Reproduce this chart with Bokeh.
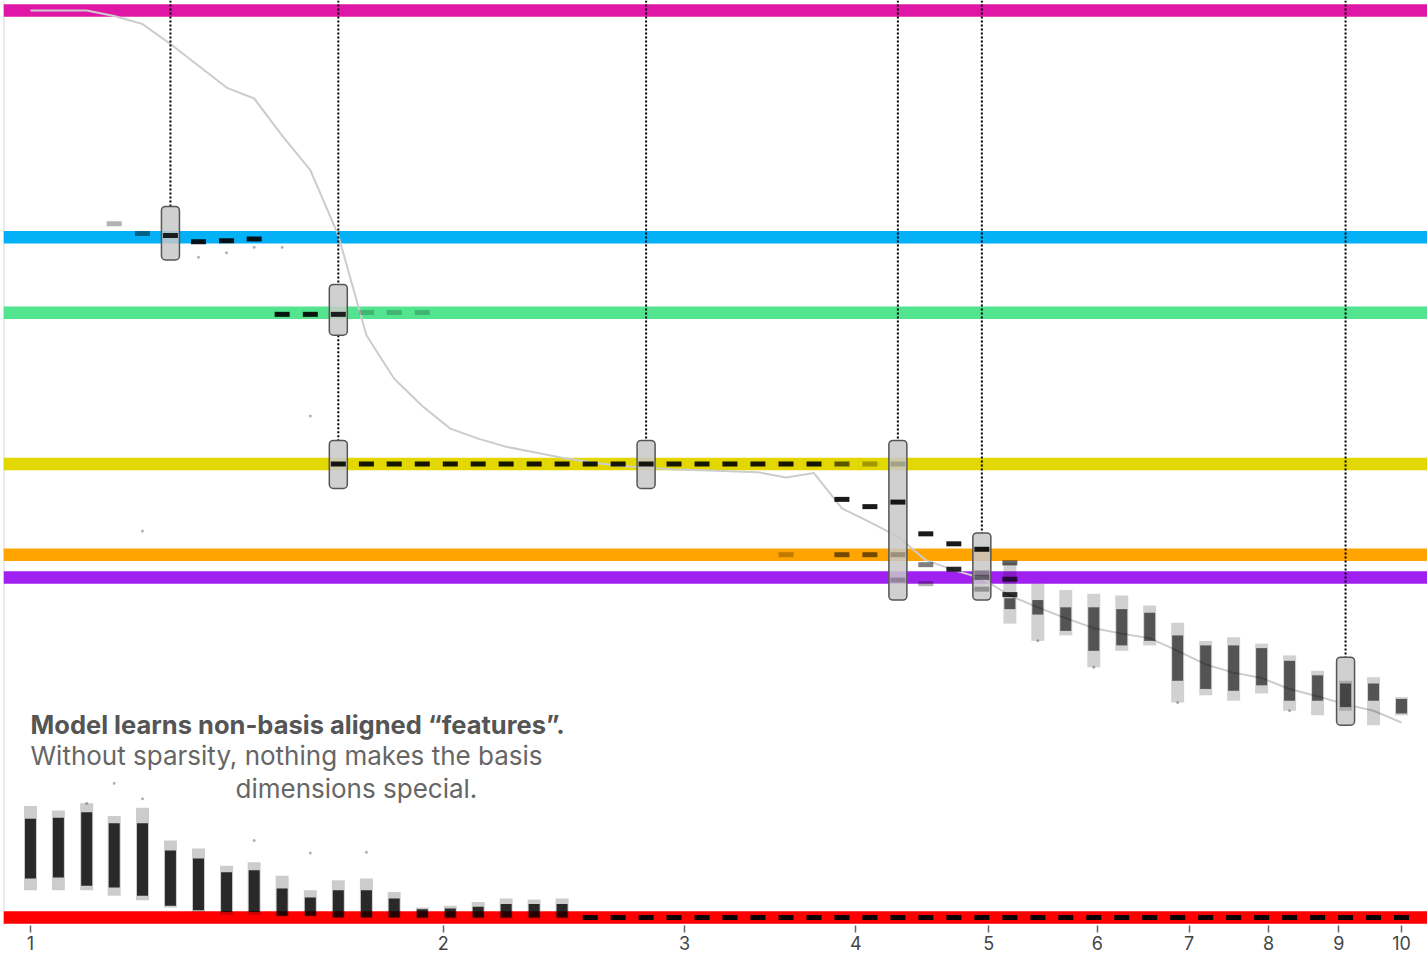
from bokeh.plotting import figure
from bokeh.models import Range1d, Span, Label, FixedTicker, PrintfTickFormatter, ColumnDataSource
from bokeh.embed import file_html
from bokeh.resources import INLINE

# ---------------- data ----------------
# sparsity grid, 1/(1-S), 50 log-spaced runs between 1 and 10
sparsity = [1.000, 1.048, 1.099, 1.151, 1.207, 1.265, 1.326, 1.390, 1.456, 1.526,
            1.600, 1.677, 1.758, 1.842, 1.931, 2.024, 2.121, 2.223, 2.330, 2.442,
            2.560, 2.683, 2.812, 2.947, 3.089, 3.237, 3.393, 3.557, 3.728, 3.907,
            4.095, 4.292, 4.498, 4.715, 4.942, 5.180, 5.429, 5.690, 5.964, 6.251,
            6.551, 6.866, 7.197, 7.543, 7.906, 8.286, 8.685, 9.103, 9.541, 10.000]

# mean dimensions per feature (gray curve)
dims_curve = [1.000, 1.000, 1.000, 0.994, 0.985, 0.963, 0.939, 0.915, 0.903, 0.862,
              0.824, 0.752, 0.642, 0.594, 0.564, 0.539, 0.528, 0.519, 0.513, 0.507,
              0.502, 0.498, 0.496, 0.494, 0.493, 0.492, 0.491, 0.485, 0.490, 0.451,
              0.436, 0.420, 0.394, 0.383, 0.374, 0.355, 0.342, 0.330, 0.319, 0.313,
              0.308, 0.294, 0.279, 0.270, 0.264, 0.252, 0.244, 0.235, 0.228, 0.215]

# reference fractions (colored bands)
band_values = [1.0, 3 / 4, 2 / 3, 1 / 2, 2 / 5, 3 / 8, 0.0]
band_colors = ["#e016a6", "#04b1f6", "#52e48f", "#e2d800", "#ffa400", "#a020f0", "#ff0000"]

# spread-out clusters (dense, few dims) at low sparsity: run index, outer range, dense core
blobL_idx = [0, 1, 2, 3, 4, 5, 6, 7, 8, 9, 10, 11, 12, 13, 14, 15, 16, 17, 18, 19]
blobL_lo = [0.030, 0.030, 0.030, 0.024, 0.019, 0.011, 0.006, 0.003, 0.003, 0.001,
            0.001, 0.000, 0.000, 0.000, -0.001, -0.001, -0.001, -0.001, -0.001, -0.001]
blobL_hi = [0.123, 0.118, 0.126, 0.112, 0.121, 0.085, 0.076, 0.057, 0.061, 0.046,
            0.030, 0.041, 0.043, 0.028, 0.011, 0.013, 0.017, 0.021, 0.020, 0.021]
coreL_lo = [0.043, 0.044, 0.035, 0.033, 0.024, 0.013, 0.008, 0.006, 0.006, 0.002,
            0.002, 0.000, 0.000, 0.000, 0.000, 0.000, 0.000, 0.000, 0.000, 0.000]
coreL_hi = [0.109, 0.110, 0.116, 0.104, 0.104, 0.074, 0.065, 0.050, 0.052, 0.032,
            0.022, 0.030, 0.030, 0.021, 0.009, 0.010, 0.012, 0.015, 0.015, 0.015]

# scattered clusters at high sparsity
blobR_idx = [35, 36, 37, 38, 39, 40, 41, 42, 43, 44, 45, 46, 47, 48, 49]
blobR_lo = [0.324, 0.305, 0.311, 0.276, 0.294, 0.300, 0.237, 0.245, 0.239, 0.247,
            0.228, 0.223, 0.228, 0.212, 0.223]
blobR_hi = [0.391, 0.368, 0.361, 0.357, 0.355, 0.344, 0.325, 0.305, 0.309, 0.302,
            0.289, 0.272, 0.261, 0.265, 0.243]
coreR_lo = [0.340, 0.334, 0.316, 0.294, 0.300, 0.305, 0.261, 0.252, 0.250, 0.256,
            0.239, 0.239, 0.232, 0.239, 0.225]
coreR_hi = [0.352, 0.350, 0.342, 0.342, 0.340, 0.336, 0.311, 0.300, 0.300, 0.297,
            0.283, 0.267, 0.258, 0.258, 0.241]

# tight clusters (features sitting at one fraction): run index, value, darkness
dash_idx = [3, 4, 5, 6, 7, 8,
            9, 10, 11, 12, 13, 14,
            11, 12, 13, 14, 15, 16, 17, 18, 19, 20, 21, 22, 23, 24, 25, 26, 27, 28, 29, 30, 31,
            29, 30, 31, 32, 33, 34, 35,
            27, 29, 30, 31,
            31, 32, 34, 35,
            32, 33, 34, 34, 35,
            20, 21, 22, 23, 24, 25, 26, 27, 28, 29, 30, 31, 32, 33, 34, 35, 36, 37, 38, 39,
            40, 41, 42, 43, 44, 45, 46, 47, 48, 49]
dash_val = [0.765, 0.754, 0.752, 0.745, 0.746, 0.748,
            0.665, 0.665, 0.665, 0.667, 0.667, 0.667,
            0.5, 0.5, 0.5, 0.5, 0.5, 0.5, 0.5, 0.5, 0.5, 0.5, 0.5, 0.5, 0.5, 0.5, 0.5, 0.5, 0.5, 0.5, 0.5, 0.5, 0.5,
            0.461, 0.453, 0.458, 0.423, 0.412, 0.406, 0.391,
            0.4, 0.4, 0.4, 0.4,
            0.372, 0.368, 0.375, 0.373,
            0.389, 0.384, 0.380, 0.362, 0.356,
            0.0, 0.0, 0.0, 0.0, 0.0, 0.0, 0.0, 0.0, 0.0, 0.0, 0.0, 0.0, 0.0, 0.0, 0.0, 0.0, 0.0, 0.0, 0.0, 0.0,
            0.0, 0.0, 0.0, 0.0, 0.0, 0.0, 0.0, 0.0, 0.0, 0.0]
dash_alpha = [0.3, 0.45, 0.85, 0.9, 0.9, 0.9,
              0.9, 0.9, 0.85, 0.2, 0.2, 0.2,
              0.9, 0.9, 0.9, 0.9, 0.9, 0.9, 0.9, 0.9, 0.9, 0.9, 0.9, 0.9, 0.9, 0.9, 0.9, 0.9, 0.9, 0.9, 0.6, 0.3, 0.2,
              0.9, 0.9, 0.9, 0.9, 0.9, 0.9, 0.6,
              0.25, 0.55, 0.55, 0.25,
              0.25, 0.3, 0.5, 0.7,
              0.5, 0.85, 0.3, 0.3, 0.8,
              0.95, 0.95, 0.95, 0.95, 0.95, 0.95, 0.95, 0.95, 0.95, 0.95, 0.95, 0.95, 0.95, 0.95, 0.95, 0.95, 0.95, 0.95, 0.95, 0.95,
              0.95, 0.95, 0.95, 0.95, 0.95, 0.95, 0.95, 0.95, 0.95, 0.95]

# stray single features
stray_idx = [2, 3, 4, 8, 10, 12, 4, 10, 6, 7, 8, 9, 36, 38, 41, 45]
stray_val = [0.126, 0.148, 0.131, 0.085, 0.071, 0.072, 0.426, 0.553, 0.728, 0.733, 0.739, 0.739,
             0.305, 0.276, 0.237, 0.228]

# highlighted runs (gray boxes)
box_idx = [5, 11, 11, 22, 31, 34, 47]
box_top = [0.784, 0.698, 0.526, 0.526, 0.526, 0.424, 0.287]
box_bottom = [0.725, 0.642, 0.473, 0.473, 0.350, 0.350, 0.212]

xtick_vals = [1, 2, 3, 4, 5, 6, 7, 8, 9, 10]

# ---------------- figure ----------------
Y_TOP = 1.011
p = figure(frame_width=1424, frame_height=925, x_axis_type="log",
           x_range=Range1d(0.9557, 10.446), y_range=Range1d(-0.0088, Y_TOP),
           output_backend="svg", toolbar_location=None,
           min_border_left=3, min_border_right=0, min_border_top=0, min_border_bottom=0)
p.grid.visible = False
p.yaxis.visible = False
p.outline_line_color = None
p.background_fill_color = "white"
p.border_fill_color = "white"

# light left axis line
p.add_layout(Span(location=0.9557, dimension="height", line_color="#d8d8d8",
                  line_width=2, level="underlay"))

for v, c in zip(band_values, band_colors):
    p.add_layout(Span(location=v, dimension="width", line_color=c, line_width=12.5,
                      level="underlay"))

# mean curve
p.line(sparsity, dims_curve, line_color="#cccccc", line_width=2)

# dotted guides down to boxes
gx, gy0, gy1 = [], [], []
last_bottom = {}
for i, t, b in zip(box_idx, box_top, box_bottom):
    gx.append(sparsity[i])
    gy0.append(last_bottom.get(i, Y_TOP))
    gy1.append(t)
    last_bottom[i] = b
p.segment(x0=gx, y0=gy0, x1=gx, y1=gy1, line_color="black", line_width=2,
          line_dash="2 2")

# boxes
half = 10 ** (9 / 1371)
bx = [sparsity[i] for i in box_idx]
p.quad(left=[x / half for x in bx], right=[x * half for x in bx],
       top=box_top, bottom=box_bottom, fill_color="#c8c8c8", fill_alpha=0.85,
       line_color="#555555", line_width=1.5, border_radius=4)


def draw_blobs(idx, lo, hi, clo, chi, outer_alpha, core_alpha, w):
    src = ColumnDataSource(dict(
        x=[sparsity[i] for i in idx],
        y=[(a + b) / 2 for a, b in zip(lo, hi)],
        h=[b - a for a, b in zip(lo, hi)],
        cy=[(a + b) / 2 for a, b in zip(clo, chi)],
        ch=[b - a for a, b in zip(clo, chi)],
    ))
    p.rect(x="x", y="y", width=w, height="h", width_units="screen", source=src,
           fill_color="black", fill_alpha=outer_alpha, line_color=None)
    p.rect(x="x", y="cy", width=w - 2, height="ch", width_units="screen", source=src,
           fill_color="black", fill_alpha=core_alpha, line_color=None)


draw_blobs(blobL_idx, blobL_lo, blobL_hi, coreL_lo, coreL_hi, 0.2, 0.8, 13)
draw_blobs(blobR_idx, blobR_lo, blobR_hi, coreR_lo, coreR_hi, 0.18, 0.6, 13)

# tight clusters
dash_src = ColumnDataSource(dict(
    x=[sparsity[i] for i in dash_idx], y=dash_val, a=dash_alpha))
p.rect(x="x", y="y", width=15, height=5, width_units="screen", height_units="screen",
       source=dash_src, fill_color="black", fill_alpha="a", line_color=None)

# strays
p.scatter(x=[sparsity[i] for i in stray_idx], y=stray_val, size=3,
          fill_color="black", fill_alpha=0.3, line_color=None)

# annotation text
p.add_layout(Label(x=1.0, y=0.213, text="Model learns non-basis aligned \u201cfeatures\u201d.",
                   text_font="Inter", text_font_size="25.5px", text_font_style="bold",
                   text_color="#555555", text_baseline="alphabetic"))
p.add_layout(Label(x=1.0, y=0.179, text="Without sparsity, nothing makes the basis",
                   text_font="Inter", text_font_size="26px",
                   text_color="#666666", text_baseline="alphabetic"))
p.add_layout(Label(x=1.411, y=0.142, text="dimensions special.",
                   text_font="Inter", text_font_size="26px",
                   text_color="#666666", text_baseline="alphabetic"))

# x axis
ax = p.xaxis[0]
ax.ticker = FixedTicker(ticks=xtick_vals, minor_ticks=[])
ax.formatter = PrintfTickFormatter(format="%d")
ax.axis_line_color = None
ax.major_tick_in = 0
ax.major_tick_out = 7
ax.major_tick_line_color = "#666666"
ax.major_tick_line_width = 1.5
ax.minor_tick_line_color = None
ax.major_label_standoff = 3
ax.major_label_text_font = "Inter"
ax.major_label_text_font_size = "18px"
ax.major_label_text_color = "#444444"

open("out.html", "w").write(file_html(p, INLINE))
